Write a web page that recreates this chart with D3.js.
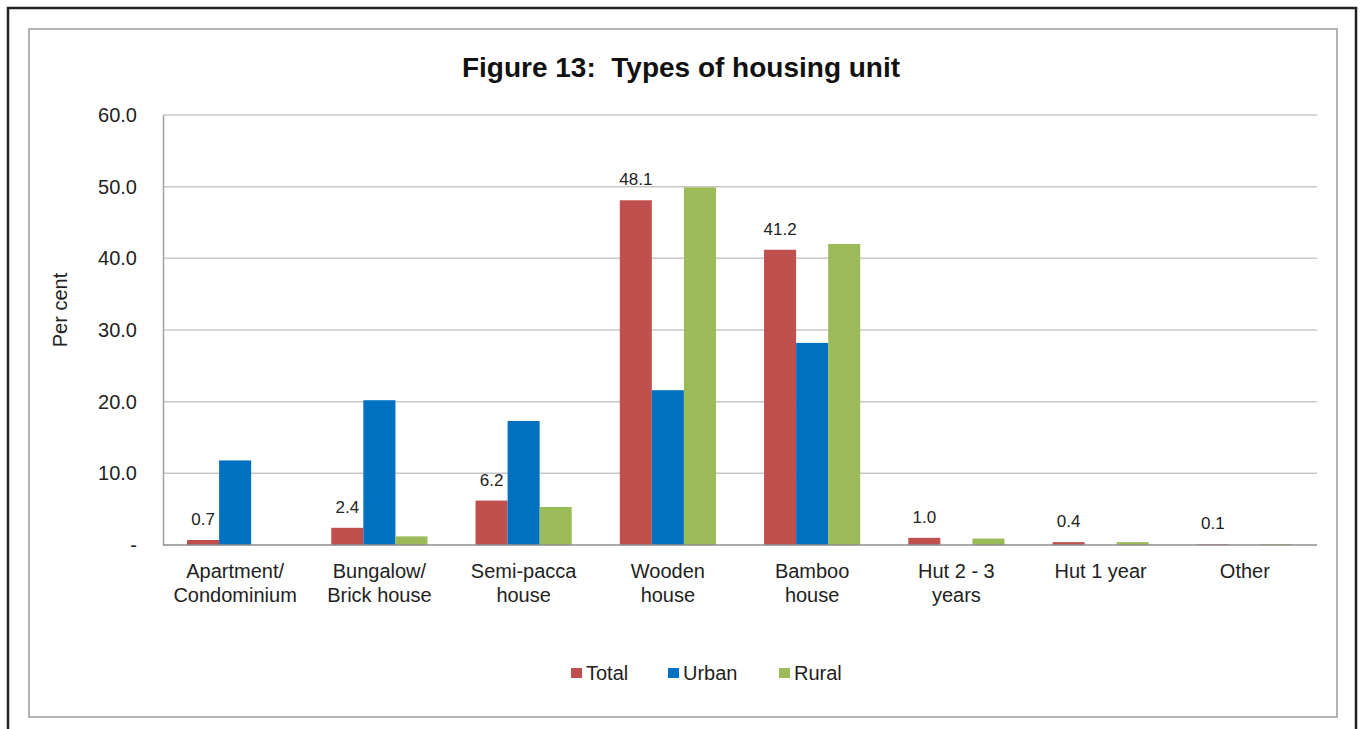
<!DOCTYPE html>
<html>
<head>
<meta charset="utf-8">
<script src="https://cdn.jsdelivr.net/npm/d3@7"></script>
<style>
  body { margin: 0; background: #fff; }
  svg text { font-family: "Liberation Sans", Arial, sans-serif; fill: #222; }
</style>
</head>
<body>
<div id="chart"></div>
<script>
// Categorias (linhas do rótulo)
const categorias = [
  ["Apartment/", "Condominium"],
  ["Bungalow/", "Brick house"],
  ["Semi-pacca", "house"],
  ["Wooden", "house"],
  ["Bamboo", "house"],
  ["Hut 2 - 3", "years"],
  ["Hut 1 year"],
  ["Other"]
];

const series = ["Total", "Urban", "Rural"];
const total = [0.7, 2.4, 6.2, 48.1, 41.2, 1.0, 0.4, 0.1];
const urban = [11.8, 20.2, 17.3, 21.6, 28.2, 0, 0, 0];
const rural = [0, 1.2, 5.3, 49.9, 42.0, 0.9, 0.4, 0.1];
const yTicks = [0, 10, 20, 30, 40, 50, 60];

const colorMap = { Total: "#C0504D", Urban: "#0070C0", Rural: "#9BBB59" };

const width = 1362, height = 729;
const plot = { left: 163, right: 1317, top: 115, bottom: 545 };

const svg = d3.select("#chart").append("svg")
  .attr("width", width)
  .attr("height", height);

// Bordas
svg.append("rect")
  .attr("x", 8).attr("y", 8)
  .attr("width", 1348).attr("height", 740)
  .attr("fill", "none").attr("stroke", "#222").attr("stroke-width", 2.5);

svg.append("rect")
  .attr("x", 29).attr("y", 29)
  .attr("width", 1308).attr("height", 688)
  .attr("fill", "none").attr("stroke", "#9a9a9a").attr("stroke-width", 1.5);

// Título
svg.append("text")
  .attr("x", 681).attr("y", 77)
  .attr("text-anchor", "middle")
  .style("font-size", "28px")
  .style("font-weight", "bold")
  .style("fill", "#111")
  .style("white-space", "pre")
  .text("Figure 13:  Types of housing unit");

// Escalas
const idx = categorias.map((d, i) => i);
const x0 = d3.scaleBand().domain(idx).range([plot.left, plot.right]);
const x1 = d3.scaleBand().domain(series)
  .range([x0.bandwidth() / 6, x0.bandwidth() * 5 / 6]);
const y = d3.scaleLinear().domain([0, 60]).range([plot.bottom, plot.top]);

// Grade
svg.append("g")
  .selectAll("line")
  .data(yTicks.filter(d => d > 0))
  .enter().append("line")
  .attr("x1", plot.left).attr("x2", plot.right)
  .attr("y1", d => y(d)).attr("y2", d => y(d))
  .attr("stroke", "#c8c8c8").attr("stroke-width", 1.5);

// Eixo Y
const yAxis = svg.append("g")
  .attr("transform", `translate(${plot.left},0)`)
  .call(d3.axisLeft(y).tickValues(yTicks).tickSize(0).tickPadding(26)
    .tickFormat(d => d === 0 ? "-" : d.toFixed(1)));
yAxis.select(".domain").attr("stroke", "#a0a0a0").attr("stroke-width", 1.5);
yAxis.selectAll("text")
  .style("font-size", "20px")
  .attr("fill", "#222");

svg.append("text")
  .attr("transform", "translate(67,310) rotate(-90)")
  .attr("text-anchor", "middle")
  .style("font-size", "20px")
  .text("Per cent");

// Barras
const dados = idx.map(i => ({ i, values: [
  { key: "Total", v: total[i] },
  { key: "Urban", v: urban[i] },
  { key: "Rural", v: rural[i] }
]}));

const groups = svg.append("g")
  .selectAll("g")
  .data(dados)
  .enter().append("g")
  .attr("transform", d => `translate(${x0(d.i)},0)`);

groups.selectAll("rect")
  .data(d => d.values)
  .enter().append("rect")
  .attr("x", d => x1(d.key))
  .attr("width", x1.bandwidth())
  .attr("y", d => y(d.v))
  .attr("height", d => y(0) - y(d.v))
  .attr("fill", d => colorMap[d.key]);

// Rótulos de valor (Total)
groups.append("text")
  .attr("x", x1("Total") + x1.bandwidth() / 2)
  .attr("y", d => y(total[d.i]) - 15)
  .attr("text-anchor", "middle")
  .style("font-size", "17px")
  .text(d => total[d.i].toFixed(1));

// Linha de base
svg.append("line")
  .attr("x1", plot.left).attr("x2", plot.right)
  .attr("y1", y(0)).attr("y2", y(0))
  .attr("stroke", "#8c8c8c").attr("stroke-width", 1.5);

// Eixo X (rótulos)
const xlab = svg.append("g")
  .selectAll("text")
  .data(idx)
  .enter().append("text")
  .attr("x", d => x0(d) + x0.bandwidth() / 2)
  .attr("y", 578)
  .attr("text-anchor", "middle")
  .style("font-size", "20px");

xlab.selectAll("tspan")
  .data(d => categorias[d].map(t => ({ t, x: x0(d) + x0.bandwidth() / 2 })))
  .enter().append("tspan")
  .attr("x", d => d.x)
  .attr("dy", (d, i) => i ? 23.5 : 0)
  .text(d => d.t);

// Legenda
const legendX = [571, 668, 779];
const legend = svg.append("g")
  .selectAll("g")
  .data(series)
  .enter().append("g")
  .attr("transform", (d, i) => `translate(${legendX[i]},668)`);

legend.append("rect")
  .attr("width", 11).attr("height", 10)
  .attr("fill", d => colorMap[d]);

legend.append("text")
  .attr("x", 15).attr("y", 12)
  .style("font-size", "20px")
  .text(d => d);
</script>
</body>
</html>
